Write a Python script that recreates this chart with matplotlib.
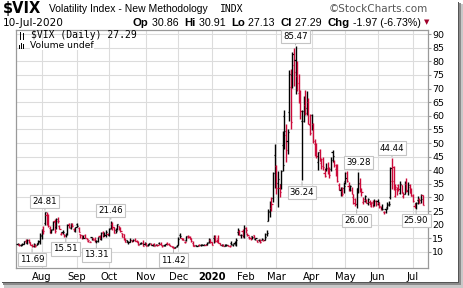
import matplotlib
matplotlib.use("Agg")
import matplotlib.pyplot as plt
import pandas as pd
from matplotlib.lines import Line2D
from matplotlib.patches import Rectangle

# daily $VIX bars, 11-Jul-2019 .. 10-Jul-2020 (one row per month)
opens = [
    12.9, 12.9, 12.6, 12.6, 12.9, 14.1, 13.3, 14.4, 13.6, 12.6, 12.2, 12.6, 12.6, 13.4, 13.6,
    16.0, 18.0, 20.6, 23.4, 21.4, 18.9, 17.3, 18.3, 21.5, 19.3, 21.5, 19.6, 16.5, 17.4, 16.5, 16.2, 16.6, 20.2, 18.9, 20.4, 18.6, 17.7,
    20.2, 18.7, 16.5, 16.3, 15.3, 16.2, 15.2, 14.1, 13.7, 15.5, 15.0, 14.6, 14.0, 14.1, 15.7, 14.9, 17.4, 15.8, 16.1, 16.6,
    16.4, 18.7, 20.4, 19.0, 17.9, 18.6, 19.4, 18.9, 16.9, 16.5, 14.6, 14.3, 13.5, 13.8, 14.3, 14.0, 14.5, 13.9, 13.6, 13.0, 13.2, 13.2, 12.9,
    13.1, 12.6, 12.9, 13.0, 12.5, 12.9, 12.7, 12.4, 13.3, 12.9, 12.4, 12.4, 12.4, 13.2, 12.8, 12.4, 12.2, 11.8, 11.7, 12.1,
    12.7, 16.1, 15.0, 14.6, 13.7, 14.2, 15.6, 15.5, 14.8, 13.3, 12.3, 12.4, 12.2, 12.6, 12.4, 12.7, 12.6, 12.7, 12.8, 13.6, 14.5,
    13.5, 15.0, 15.5, 14.1, 15.2, 13.2, 12.5, 12.6, 12.3, 12.6, 12.5, 12.2, 13.4, 12.6, 13.4, 12.7, 17.3, 17.6, 16.1, 17.7, 15.7,
    18.7, 16.6, 15.4, 15.0, 15.7, 16.2, 14.6, 14.4, 14.5, 14.1, 14.4, 14.3, 14.4, 16.5, 21.5, 24.7, 26.3, 29.7, 45.6,
    41.6, 35.2, 33.4, 35.1, 49.2, 60.0, 53.1, 50.9, 61.4, 70.6, 75.1, 78.8, 80.5, 74.7, 68.4, 65.3, 57.9, 58.0, 64.0, 63.0, 65.0, 56.5,
    60.2, 57.0, 49.8, 49.5, 43.0, 47.5, 42.8, 44.2, 39.0, 40.6, 40.4, 40.6, 40.5, 46.7, 42.9, 40.3, 40.6, 34.4, 32.7, 32.3, 33.6,
    36.0, 38.9, 34.3, 33.2, 32.7, 30.0, 29.4, 27.7, 33.5, 35.1, 33.0, 28.4, 28.6, 29.2, 28.1, 28.5, 26.8, 28.4, 27.1, 28.6,
    28.6, 27.9, 26.6, 26.0, 24.6, 25.6, 26.4, 27.2, 30.0, 36.1, 41.2, 30.7, 33.2, 34.6, 31.8, 34.6, 30.5, 31.3, 34.9, 32.9, 33.9, 32.4,
    30.9, 27.0, 27.8, 28.9, 29.3, 29.1, 30.86,
]
highs = [
    13.4, 13.0, 12.9, 13.2, 14.1, 14.9, 14.6, 14.6, 13.7, 12.9, 13.2, 12.9, 13.1, 14.3, 17.0,
    18.3, 19.4, 24.81, 24.5, 24.0, 19.5, 18.5, 21.4, 22.0, 22.4, 23.0, 19.8, 17.3, 17.9, 16.7, 17.0, 20.3, 20.5, 20.7, 20.7, 18.8, 19.1,
    20.8, 19.2, 16.6, 16.4, 16.1, 16.5, 15.3, 14.5, 14.1, 15.6, 15.1, 15.5, 14.4, 15.6, 16.1, 17.4, 17.6, 17.2, 18.0, 16.9,
    18.7, 21.46, 21.0, 19.1, 18.8, 20.4, 19.6, 19.2, 17.0, 16.6, 15.0, 14.4, 14.0, 15.0, 14.5, 14.7, 15.1, 14.2, 13.9, 13.2, 13.6, 14.2, 13.6,
    13.4, 12.9, 13.4, 13.4, 13.0, 13.2, 12.9, 12.9, 13.5, 13.5, 12.5, 12.7, 12.9, 13.8, 13.3, 12.7, 12.3, 12.0, 11.9, 12.7,
    15.5, 17.0, 15.3, 15.2, 13.9, 15.9, 16.3, 15.7, 15.1, 14.0, 12.6, 12.6, 12.7, 12.8, 12.9, 12.9, 12.9, 12.9, 13.6, 15.0, 14.6,
    13.7, 16.2, 16.4, 14.6, 16.2, 13.3, 12.9, 12.8, 12.8, 12.9, 12.6, 12.5, 13.9, 13.0, 13.9, 15.2, 18.9, 17.9, 16.7, 18.3, 19.9,
    19.0, 16.8, 15.7, 15.4, 16.0, 16.3, 15.3, 14.5, 14.8, 14.6, 15.3, 14.5, 17.1, 17.9, 25.6, 28.6, 30.3, 39.2, 49.5,
    41.8, 39.9, 34.8, 40.0, 54.4, 62.1, 57.0, 55.0, 76.8, 77.0, 83.6, 84.8, 85.47, 80.1, 75.3, 69.4, 62.0, 67.1, 69.4, 69.0, 66.7, 60.6,
    60.6, 57.2, 51.6, 49.9, 46.8, 47.7, 44.6, 44.8, 41.0, 42.5, 42.9, 41.3, 45.0, 47.4, 43.7, 42.4, 42.4, 35.3, 33.8, 33.8, 35.5,
    39.3, 39.7, 35.5, 34.4, 33.8, 31.2, 29.8, 33.5, 39.28, 37.1, 33.6, 30.2, 31.0, 29.6, 29.8, 29.2, 28.3, 29.2, 29.6, 29.2,
    29.6, 28.5, 27.0, 27.6, 25.2, 26.2, 28.2, 28.6, 41.2, 44.44, 41.4, 34.8, 33.8, 35.0, 36.0, 34.6, 32.0, 35.9, 37.1, 35.5, 35.0, 33.3,
    31.1, 28.1, 28.2, 30.5, 29.7, 31.3, 30.91,
]
lows = [
    12.6, 12.2, 12.3, 12.4, 12.8, 13.3, 12.9, 13.4, 12.5, 11.69, 11.9, 11.9, 12.4, 12.9, 12.9,
    14.9, 16.6, 19.8, 19.8, 19.2, 16.8, 16.8, 18.0, 16.9, 18.6, 20.5, 18.3, 16.3, 16.6, 15.6, 15.51, 16.2, 18.9, 18.3, 19.2, 17.8, 17.4,
    19.0, 17.3, 15.3, 14.9, 15.0, 15.2, 14.4, 13.8, 13.5, 14.4, 14.4, 13.7, 13.31, 13.6, 14.8, 14.3, 15.6, 15.7, 15.6, 16.1,
    15.9, 18.4, 18.2, 17.0, 17.0, 18.1, 18.2, 17.4, 15.6, 14.4, 13.5, 13.6, 13.0, 13.5, 13.7, 13.9, 13.9, 13.5, 12.6, 12.8, 12.8, 12.3, 12.6,
    12.1, 12.3, 12.7, 12.5, 12.3, 12.0, 12.5, 12.3, 12.8, 12.7, 11.9, 12.1, 12.1, 12.7, 12.4, 12.0, 11.8, 11.42, 11.5, 11.9,
    12.5, 15.3, 14.3, 14.3, 13.4, 14.1, 15.1, 14.7, 13.6, 12.3, 12.0, 12.0, 12.0, 12.3, 12.1, 12.5, 12.6, 12.5, 12.5, 13.4, 13.2,
    12.4, 13.1, 13.5, 13.7, 13.4, 12.5, 12.3, 12.3, 12.2, 12.3, 12.1, 11.8, 12.7, 12.2, 12.9, 12.3, 16.2, 16.1, 15.2, 15.4, 15.1,
    17.0, 15.9, 14.6, 14.5, 14.9, 15.0, 14.4, 13.7, 13.9, 13.4, 14.2, 13.9, 14.2, 15.8, 21.3, 23.0, 25.1, 28.3, 33.4,
    31.2, 26.4, 30.3, 33.0, 39.6, 47.7, 43.2, 45.8, 58.1, 55.2, 70.1, 70.8, 67.9, 69.2, 64.6, 58.9, 36.24, 57.6, 60.4, 60.2, 57.0, 52.8,
    54.8, 49.9, 45.2, 44.4, 40.1, 43.3, 40.6, 40.2, 37.5, 39.8, 38.6, 37.2, 39.9, 43.0, 41.2, 38.0, 35.7, 32.9, 30.7, 30.5, 31.6,
    34.9, 35.6, 32.5, 32.2, 31.2, 27.6, 27.0, 26.00, 31.8, 32.1, 30.7, 27.5, 28.5, 27.8, 27.4, 27.1, 26.4, 26.6, 26.8, 26.7,
    27.4, 26.3, 25.5, 25.3, 23.9, 24.3, 25.8, 26.7, 29.5, 33.0, 32.7, 30.0, 31.0, 32.4, 31.2, 31.5, 29.8, 31.2, 31.9, 31.0, 31.7, 30.4,
    28.2, 26.1, 25.90, 27.6, 27.9, 27.9, 27.13,
]
closes = [
    12.93, 12.39, 12.68, 12.86, 13.97, 13.53, 14.45, 13.53, 12.61, 12.07, 12.74, 12.16, 12.83, 13.94, 16.12,
    17.87, 17.61, 24.59, 20.17, 19.49, 16.91, 17.97, 21.09, 17.52, 22.10, 21.18, 18.47, 16.88, 17.50, 15.80, 16.68, 19.87, 19.32, 20.31, 19.35, 17.88, 18.98,
    19.66, 17.33, 16.27, 15.00, 15.27, 15.20, 14.61, 14.22, 13.74, 14.67, 14.44, 13.95, 14.05, 15.32, 14.91, 17.05, 15.96, 16.07, 17.22, 16.24,
    18.56, 20.56, 19.12, 17.04, 17.86, 20.28, 18.64, 17.57, 15.58, 14.57, 13.54, 13.68, 13.79, 14.25, 14.00, 14.46, 14.01, 13.71, 12.65, 13.11, 13.20, 12.33, 13.22,
    12.30, 12.83, 13.10, 12.62, 12.73, 12.07, 12.69, 12.68, 13.00, 12.69, 12.05, 12.46, 12.86, 12.78, 12.58, 12.34, 11.87, 11.54, 11.75, 12.62,
    14.91, 15.96, 14.80, 14.52, 13.62, 15.86, 15.68, 14.99, 13.94, 12.63, 12.14, 12.29, 12.58, 12.50, 12.51, 12.61, 12.67, 12.65, 13.43, 14.82, 13.78,
    12.47, 14.02, 13.85, 13.79, 13.45, 12.54, 12.56, 12.32, 12.39, 12.42, 12.32, 12.10, 12.85, 12.91, 12.98, 14.56, 18.23, 16.28, 16.39, 15.49, 18.84,
    17.97, 16.05, 15.15, 14.96, 15.47, 15.04, 15.18, 13.74, 14.15, 13.68, 14.83, 14.38, 15.56, 17.08, 25.03, 27.85, 27.56, 39.16, 40.11,
    33.42, 36.82, 31.99, 39.62, 41.94, 54.46, 47.30, 53.90, 75.47, 57.83, 82.69, 75.91, 76.45, 72.00, 66.04, 61.59, 61.67, 63.95, 61.00, 65.54, 57.08, 53.54,
    57.06, 50.91, 46.80, 45.24, 46.70, 43.35, 41.67, 41.17, 37.76, 40.84, 40.11, 38.15, 43.83, 45.41, 41.98, 41.38, 35.93, 33.29, 33.57, 31.23, 34.15,
    37.19, 35.97, 33.61, 34.12, 31.44, 27.98, 27.57, 33.04, 35.28, 32.61, 31.89, 29.30, 30.53, 27.99, 29.53, 28.16, 28.01, 27.62, 28.59, 27.51,
    28.23, 26.84, 25.66, 25.81, 24.52, 25.81, 27.57, 27.57, 40.79, 36.09, 34.40, 33.67, 33.47, 32.94, 35.12, 31.77, 31.37, 33.84, 32.22, 34.73, 31.78, 30.43,
    28.62, 27.68, 27.94, 29.43, 28.08, 29.26, 27.29,
]
holidays = ["2019-09-02", "2019-11-28", "2019-12-25", "2020-01-01", "2020-01-20",
            "2020-02-17", "2020-04-10", "2020-05-25", "2020-07-03"]

month_labels = ["Aug", "Sep", "Oct", "Nov", "Dec", "2020", "Feb", "Mar", "Apr", "May", "Jun", "Jul"]
y_ticks = list(range(10, 95, 5))

high_labels = [24.81, 21.46, 85.47, 39.28, 44.44]
low_labels = [11.69, 15.51, 13.31, 11.42, 36.24, 26.00, 25.90]

RED = "#cc0a3a"
GRID = "#dcdcdc"
FRAME = "#9a9a9a"

days = pd.bdate_range("2019-07-11", "2020-07-10")
days = days[~days.isin(pd.to_datetime(holidays))]
n = len(days)
x = list(range(n))

W, H = 464, 288
fig = plt.figure(figsize=(W / 100, H / 100), dpi=100)
fig.patch.set_facecolor("white")


def fx(px):
    return px / W


def fy(py):
    return 1 - py / H


def shade(x0, y0, x1, y1, color, z):
    # rectangle given in image pixels (top-left origin)
    fig.patches.append(Rectangle((fx(x0), fy(y1)), fx(x1 - x0), fy(y0) - fy(y1),
                                 transform=fig.transFigure, facecolor=color,
                                 edgecolor="none", zorder=z))


# drop shadow round the "paper"
shade(460, 4, 464, 288, "#c8c8c8", -6)
shade(4, 284, 464, 288, "#c8c8c8", -6)
shade(459, 3, 461, 285, "#8c8c8c", -5)
shade(3, 283, 461, 285, "#8c8c8c", -5)
shade(458, 2, 459, 283, "#555555", -4)
shade(2, 282, 459, 283, "#555555", -4)

ax = fig.add_axes([fx(16), fy(268), fx(428 - 16), fy(30) - fy(268)])
ax.set_xlim(-1.0, n + 2.4)
ax.set_ylim(4.1, 91.5)

# OHLC bars, black when close is up vs previous close, red when down
for i in x:
    prev = closes[i - 1] if i > 0 else closes[i]
    c = "black" if closes[i] >= prev else RED
    ax.vlines(i, lows[i], highs[i], color=c, lw=1.0, zorder=3)
    ax.hlines(opens[i], i - 0.7, i, color=c, lw=0.9, zorder=3)
    ax.hlines(closes[i], i, i + 0.7, color=c, lw=0.9, zorder=3)

# month gridlines at the first trading day of each month
month_pos = []
for k in range(1, n):
    if days[k].month != days[k - 1].month:
        month_pos.append(k)
ax.set_xticks(month_pos)
ax.set_xticklabels(month_labels, fontsize=7.2, family="DejaVu Sans")
for t in ax.get_xticklabels():
    if t.get_text() == "2020":
        t.set_fontweight("bold")
ax.tick_params(axis="x", length=0, pad=3, colors="black")

ax.yaxis.tick_right()
ax.set_yticks(y_ticks)
ax.set_yticklabels([str(v) for v in y_ticks], fontsize=6.8, family="DejaVu Sans")
ax.tick_params(axis="y", length=2.5, width=0.8, color=FRAME, pad=0.5)

ax.grid(True, color=GRID, lw=0.8, zorder=0)
ax.set_axisbelow(True)
for s in ax.spines.values():
    s.set_color(FRAME)
    s.set_linewidth(0.9)

# boxed high / low callouts
box = dict(boxstyle="square,pad=0.25", facecolor="white", edgecolor="#c4c4c4", lw=0.8)
arrow = dict(arrowstyle="-", color="#b0b0b0", lw=0.7, shrinkA=0, shrinkB=1)
for v in high_labels:
    i = highs.index(v)
    ax.annotate(f"{v:.2f}", (i, v), xytext=(0, 10), textcoords="offset pixels",
                ha="center", va="center", fontsize=6.2, bbox=box, arrowprops=arrow, zorder=5)
for v in low_labels:
    i = lows.index(v)
    ax.annotate(f"{v:.2f}", (i, v), xytext=(0, -12), textcoords="offset pixels",
                ha="center", va="center", fontsize=6.2, bbox=box, arrowprops=arrow, zorder=5)

# legend lines inside the chart
last = closes[-1]
fig.text(fx(31), fy(35.5), f"$VIX (Daily) {last:.2f}", fontsize=7, va="center", ha="left",
         family="DejaVu Sans Mono")
fig.text(fx(30), fy(45.5), "Volume undef", fontsize=6.6, va="center", ha="left", family="DejaVu Sans",
         bbox=dict(facecolor="white", edgecolor="none", pad=0.3))
fig.add_artist(Line2D([fx(20), fx(20)], [fy(38.5), fy(32)], color="black", lw=0.7))
fig.add_artist(Line2D([fx(23), fx(23)], [fy(39), fy(32.5)], color="black", lw=0.7))
for k, h in enumerate([4, 6, 5]):
    fig.patches.append(Rectangle((fx(19 + k * 2), fy(49)), fx(1.3), fy(49 - h) - fy(49),
                                 transform=fig.transFigure, facecolor="black", zorder=6))

# header
fig.text(fx(3), fy(8.5), "$VIX", fontsize=10.5, fontweight="bold", va="center", family="DejaVu Sans")
fig.text(fx(49), fy(8.5), "Volatility Index - New Methodology", fontsize=7.5, va="center",
         family="Liberation Sans")
fig.text(fx(220), fy(8.5), "INDX", fontsize=7, va="center", family="DejaVu Sans Mono")
fig.text(fx(428), fy(8.5), "\u00a9StockCharts.com", fontsize=7.5, va="center", ha="right",
         color="#555555", family="DejaVu Sans")
fig.text(fx(3), fy(23), days[-1].strftime("%d-%b-%Y"), fontsize=7.6, va="center", family="DejaVu Sans")

chg = closes[-1] - closes[-2]
pct = chg / closes[-2] * 100
parts = [("Op", True), (f" {opens[-1]:.2f}  ", False), ("Hi", True), (f" {highs[-1]:.2f}  ", False),
         ("Lo", True), (f" {lows[-1]:.2f}  ", False), ("Cl", True), (f" {closes[-1]:.2f}  ", False),
         ("Chg", True), (f" {chg:.2f} ({pct:.2f}%) ", False)]
fig.canvas.draw()
r = fig.canvas.get_renderer()
xpos = 133
for s, b in parts:
    t = fig.text(fx(xpos), fy(23), s, fontsize=8.2 if b else 7.7, va="center",
                 fontweight="bold" if b else "normal", family="Liberation Sans")
    xpos += t.get_window_extent(renderer=r).width
fig.text(fx(xpos), fy(22.5), "\u25bc", fontsize=5, va="center", color="#a0002a", family="DejaVu Sans")

fig.savefig("out.png", dpi=100)
